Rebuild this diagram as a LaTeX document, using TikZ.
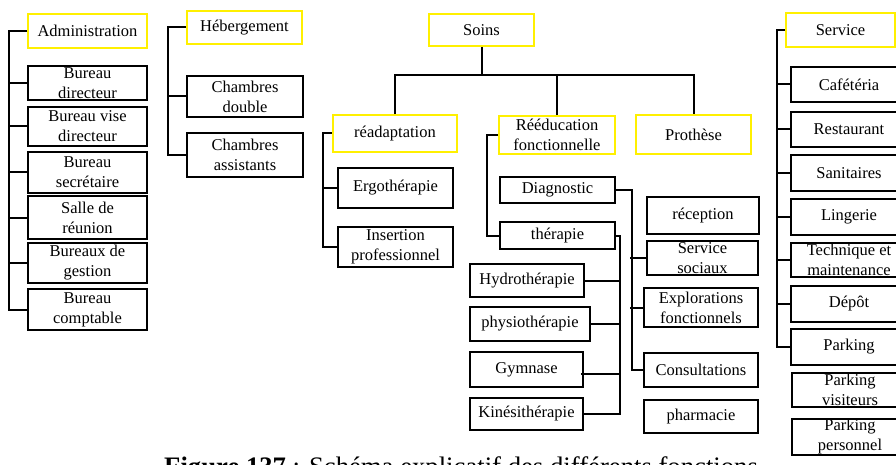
\documentclass[tikz,border=0pt]{standalone}
\usepackage{fontspec}
\setmainfont{Liberation Serif}
\definecolor{headyellow}{RGB}{255,240,0}

\begin{document}
\begin{tikzpicture}[x=1pt,y=-1pt]
\tikzstyle{every node}+=[inner sep=0pt]
\tikzstyle{box}=[draw=black, line width=1.6pt, align=center, font=\fontsize{16.5}{20}\selectfont]
\tikzstyle{head}=[box, draw=headyellow, line width=1.9pt]
\tikzstyle{link}=[draw=black, line width=2pt]
\useasboundingbox (0,0) rectangle (896,465);

% Administration
\node[head, minimum width=119, minimum height=34] (admin) at (87.5,31) {Administration};
\node[box, minimum width=119, minimum height=34] (bdir) at (87.5,83) {Bureau\\directeur};
\node[box, minimum width=119, minimum height=39] (bvise) at (87.5,126.5) {Bureau vise\\directeur};
\node[box, minimum width=119, minimum height=41] (bsec) at (87.5,172.5) {Bureau\\secrétaire};
\node[box, minimum width=119, minimum height=43] (salle) at (87.5,217.5) {Salle de\\réunion};
\node[box, minimum width=119, minimum height=40] (bgest) at (87.5,263) {Bureaux de\\gestion};
\node[box, minimum width=119, minimum height=41] (bcompt) at (87.5,309.5) {Bureau\\comptable};
\draw[link] (admin.west) -- ++(-18,0) |- (bcompt.west);
\foreach \n in {bdir,bvise,bsec,salle,bgest}
  \draw[link] (\n.west) -- ++(-18,0);

% Hebergement
\node[head, minimum width=115, minimum height=33] (heb) at (244.5,27.5) {Hébergement};
\node[box, minimum width=116, minimum height=41] (chdbl) at (245,96.5) {Chambres\\double};
\node[box, minimum width=116, minimum height=44] (chass) at (245,155) {Chambres\\assistants};
\draw[link] (heb.west) -- ++(-18,0) |- (chass.west);
\draw[link] (chdbl.west) -- ++(-18,0);

% Soins
\node[head, minimum width=105, minimum height=32] (soins) at (481.5,30) {Soins};
\node[head, minimum width=124, minimum height=37] (readapt) at (395,133.5) {réadaptation};
\node[head, minimum width=116, minimum height=38] (reeduc) at (557,135) {Rééducation\\fonctionnelle};
\node[head, minimum width=115, minimum height=39] (prot) at (693.5,134.5) {Prothèse};
\coordinate (bus) at (481.5,75);
\draw[link] (soins.south) -- (bus);
\draw[link] (readapt.north) |- (bus) -| (prot.north);
\draw[link] (reeduc.north) -- (reeduc.north |- bus);

% readaptation
\node[box, minimum width=115, minimum height=40] (ergo) at (395.5,188) {Ergothérapie};
\node[box, minimum width=115, minimum height=40] (insert) at (395.5,247) {Insertion\\professionnel};
\draw[link] (readapt.west) -- ++(-9,0) |- (insert.west);
\draw[link] (ergo.west) -- ++(-14,0);

% reeducation fonctionnelle
\node[box, minimum width=115, minimum height=26] (diag) at (557.5,190) {Diagnostic};
\node[box, minimum width=115, minimum height=27] (ther) at (557.5,235.5) {thérapie};
\draw[link] (reeduc.west) -- ++(-11,0) |- (ther.west);

\node[box, minimum width=112, minimum height=37] (recep) at (703,215.5) {réception};
\node[box, minimum width=111, minimum height=34] (sociaux) at (702.5,258) {Service\\sociaux};
\node[box, minimum width=114, minimum height=39] (explor) at (701,307.5) {Explorations\\fonctionnels};
\node[box, minimum width=114, minimum height=34] (consult) at (701,370) {Consultations};
\node[box, minimum width=114, minimum height=33] (pharma) at (701,416.5) {pharmacie};
\draw[link] (diag.east) -- ++(16,0) |- (consult.west);
\draw[link] (sociaux.west) -- ++(-16,0);
\draw[link] (explor.west) -- ++(-13,0);

\node[box, minimum width=114, minimum height=33] (hydro) at (527,280.5) {Hydrothérapie};
\node[box, minimum width=120, minimum height=34] (physio) at (530,324) {physiothérapie};
\node[box, minimum width=113, minimum height=35] (gym) at (526.5,369.5) {Gymnase};
\node[box, minimum width=113, minimum height=32] (kine) at (526.5,414) {Kinésithérapie};
\draw[link] (ther.east) -- ++(4,0) |- (kine.east);
\draw[link] (hydro.east) -- ++(35,0);
\draw[link] (physio.east) -- ++(29,0);
\draw[link] ([shift={(-3,4)}]gym.east) -- ++(39,0);

% Service
\node[head, minimum width=109, minimum height=34] (serv) at (840.5,30) {Service};
\node[box, minimum width=116, minimum height=35] (cafe) at (849,84.5) {Cafétéria};
\node[box, minimum width=116, minimum height=35] (resto) at (849,129.5) {Restaurant};
\node[box, minimum width=116, minimum height=36] (sanit) at (849,173) {Sanitaires};
\node[box, minimum width=116, minimum height=36] (linge) at (849,217) {Lingerie};
\node[box, minimum width=116, minimum height=34] (tech) at (849,260) {Technique et\\maintenance};
\node[box, minimum width=116, minimum height=36] (depot) at (849,304) {Dépôt};
\node[box, minimum width=116, minimum height=36] (park) at (849,347) {Parking};
\node[box, minimum width=116, minimum height=34] (pvis) at (850,390) {Parking\\visiteurs};
\node[box, minimum width=116, minimum height=36] (ppers) at (850,437) {Parking\\personnel};
\draw[link] (serv.west) -- ++(-8,0) |- (park.west);
\foreach \n in {cafe,resto,sanit,linge,tech,depot}
  \draw[link] (\n.west) -- ++(-13,0);

% legende
\node[anchor=base west, font=\fontsize{26.7}{32}\selectfont] (legende) at (164,475)
  {\textbf{Figure 137} : Schéma explicatif des différents fonctions};
\end{tikzpicture}
\end{document}
